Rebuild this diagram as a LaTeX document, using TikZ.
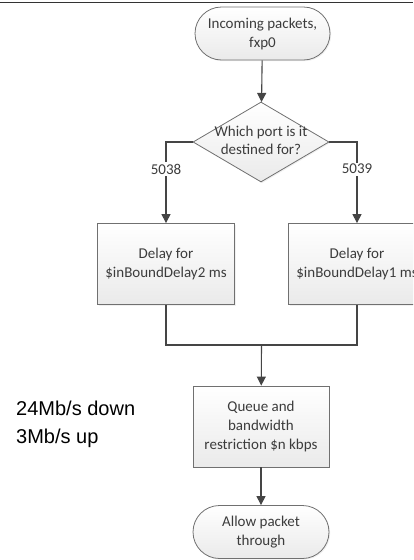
\documentclass[tikz,border=0pt]{standalone}
\usepackage{fontspec}
\setmainfont{Carlito}
\newfontfamily\ratefont{Liberation Sans}
\usetikzlibrary{shapes.geometric,arrows.meta,shadows}
\definecolor{shapeborder}{HTML}{707070}
\definecolor{shapefill}{HTML}{EAEAEA}
\definecolor{ink}{HTML}{3C3C3C}
\definecolor{wire}{HTML}{454545}
\tikzset{
  x=1pt, y=-1pt,
  flowshape/.style={draw=shapeborder, line width=0.8pt, top color=white,
    bottom color=shapefill, text=ink, font=\fontsize{15}{19}\selectfont,
    align=center, inner sep=0pt,
    drop shadow={opacity=0.12, shadow xshift=1.2pt, shadow yshift=-1.2pt}},
  terminal/.style={flowshape, rectangle, rounded corners=26.5pt,
    minimum width=135pt, minimum height=53pt},
  process/.style={flowshape, rectangle, minimum width=137pt, minimum height=81pt},
  decision/.style={flowshape, diamond, minimum width=136pt, minimum height=80pt},
  wireline/.style={draw=wire, line width=1.1pt},
  arr/.style={wireline, -{Triangle[width=9pt,length=9pt]}},
  portlabel/.style={fill=white, text=ink, inner sep=1.5pt,
    font=\fontsize{15}{19}\selectfont},
}
\begin{document}
\begin{tikzpicture}
  \useasboundingbox (0,0) rectangle (413,560);
  \clip (0,0) rectangle (413,560);

  % frame rule along the top edge
  \draw[draw=black!80, line width=1.6pt] (0,2.5) -- (413,2.5);

  % shapes
  \node[terminal] (start) at (262.5,33.5) {Incoming packets,\\fxp0};
  \node[decision] (port) at (261,142)
    {\makebox[0pt]{\begin{tabular}{@{}c@{}}Which port is it\\[-1pt]destined for?\end{tabular}}};
  \node[process] (delayA) at (166,264) {Delay for\\\$inBoundDelay2 ms};
  \node[process] (delayB) at (357,264) {Delay for\\\$inBoundDelay1 ms};
  \coordinate (merge) at (261.5,345);
  \node[process, minimum width=136pt] (queue) at (261,426.5)
    {Queue and\\bandwidth\\restriction \$n kbps};
  \node[terminal, minimum width=136pt] (finish) at (261,532) {Allow packet\\through};

  % link rates
  \node[anchor=west, align=left, inner sep=0pt, text=black,
    font=\ratefont\fontsize{20}{28}\selectfont] (rates) at (16,424)
    {24Mb/s down\\3Mb/s up};

  % connectors
  \draw[arr] (start) -- (port);
  \draw[arr] (port.west) -| node[portlabel, pos=0.667] {5038} (delayA.north);
  \draw[arr] (port.east) -| node[portlabel, pos=0.667] {5039} (delayB.north);
  \draw[wireline] (delayA.south) |- (merge) -| (delayB.south);
  \draw[arr] (merge) -- (queue);
  \draw[arr] (queue) -- (finish);
\end{tikzpicture}
\end{document}
